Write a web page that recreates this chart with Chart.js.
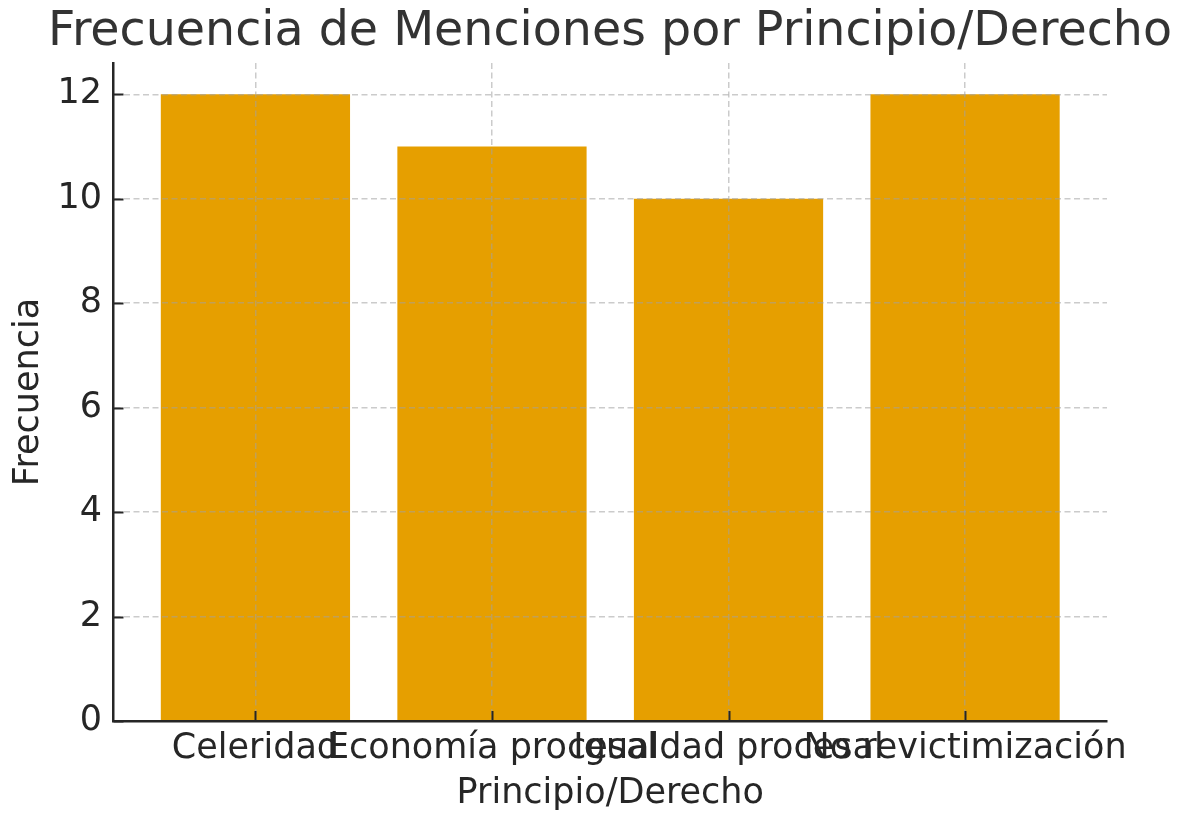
<!DOCTYPE html>
<html>
<head>
<meta charset="utf-8">
<script src="https://cdn.jsdelivr.net/npm/chart.js@4/dist/chart.umd.min.js"></script>
<style>
  html, body { margin: 0; padding: 0; background: #ffffff; }
  #wrap { width: 1191px; height: 818px; }
</style>
</head>
<body>
<div id="wrap"><canvas id="c" width="1191" height="818"></canvas></div>
<script>
const categories = ["Celeridad", "Economía procesal", "Igualdad procesal", "No revictimización"];
const frecuencias = [12, 11, 10, 12];
const yTickValues = [0, 2, 4, 6, 8, 10, 12];
const chartTitle = "Frecuencia de Menciones por Principio/Derecho";
const xAxisTitle = "Principio/Derecho";
const yAxisTitle = "Frecuencia";

const FONT = "'DejaVu Sans', sans-serif";
const TEXT = "#262626";
const GRID = "rgba(160,160,160,0.55)";

const innerTicks = {
  id: 'innerTicks',
  afterDraw(chart) {
    const ctx = chart.ctx;
    const xs = chart.scales.x, ys = chart.scales.y;
    ctx.save();
    ctx.strokeStyle = TEXT;
    ctx.lineWidth = 2;
    ctx.setLineDash([]);
    ctx.beginPath();
    xs.ticks.forEach(t => {
      const px = Math.round(xs.getPixelForValue(t.value)) + 0.5;
      ctx.moveTo(px, xs.top);
      ctx.lineTo(px, xs.top - 10);
    });
    ys.ticks.forEach(t => {
      const py = Math.round(ys.getPixelForValue(t.value)) + 0.5;
      ctx.moveTo(ys.right, py);
      ctx.lineTo(ys.right + 10, py);
    });
    ctx.stroke();
    ctx.restore();
  }
};

new Chart(document.getElementById('c'), {
  type: 'bar',
  data: {
    datasets: [{
      data: frecuencias.map((v, i) => ({ x: i, y: v })),
      backgroundColor: '#E69F00',
      borderWidth: 0,
      barPercentage: 0.8,
      categoryPercentage: 1.0
    }]
  },
  options: {
    responsive: false,
    animation: false,
    devicePixelRatio: 1,
    layout: { padding: { left: 29, right: 0, top: 0, bottom: 0 } },
    plugins: {
      legend: { display: false },
      tooltip: { enabled: false },
      title: {
        display: true,
        text: chartTitle,
        color: '#333333',
        font: { family: FONT, size: 47.5, weight: 'normal', lineHeight: 1.2 },
        padding: { top: 4, bottom: 2 }
      }
    },
    scales: {
      x: {
        type: 'linear',
        position: 'bottom',
        offset: false,
        min: -0.6,
        max: 3.6,
        afterBuildTicks: s => { s.ticks = categories.map((_, i) => ({ value: i })); },
        afterFit: s => { s.height = 97; },
        ticks: {
          autoSkip: false, maxRotation: 0, minRotation: 0, padding: 6.5,
          color: TEXT, font: { family: FONT, size: 35 },
          callback: v => categories[v]
        },
        grid: { z: 1, offset: false, color: GRID, lineWidth: 1.5, drawTicks: false },
        border: { z: 2, color: TEXT, width: 2.5, dash: [6, 3.5] },
        title: {
          display: true, text: xAxisTitle, color: TEXT,
          font: { family: FONT, size: 35 }, padding: { top: 0, bottom: 3 }
        }
      },
      y: {
        type: 'linear',
        position: 'left',
        min: 0,
        max: 12.6,
        afterBuildTicks: s => { s.ticks = yTickValues.map(v => ({ value: v })); },
        afterFit: s => { s.width = 84.5; },
        ticks: { padding: 11.5, color: TEXT, font: { family: FONT, size: 35 } },
        grid: { z: 1, color: GRID, lineWidth: 1.5, drawTicks: false },
        border: { z: 2, color: TEXT, width: 2.5, dash: [6, 3.5] },
        title: {
          display: true, text: yAxisTitle, color: TEXT,
          font: { family: FONT, size: 35 }, padding: { top: -21, bottom: 0 }
        }
      },
      yR: {
        type: 'linear',
        position: 'right',
        display: true,
        afterFit: s => { s.width = 84; },
        grid: { display: false, drawTicks: false },
        border: { display: false },
        ticks: { display: false }
      }
    }
  },
  plugins: [innerTicks]
});
</script>
</body>
</html>
